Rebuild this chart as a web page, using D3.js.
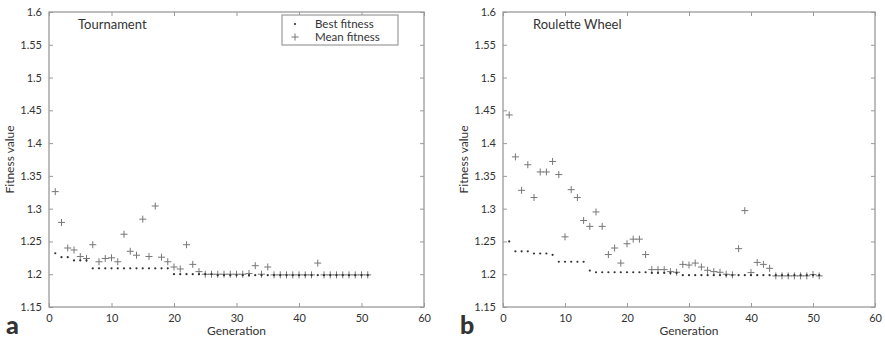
<!DOCTYPE html>
<html>
<head>
<meta charset="utf-8">
<script src="https://cdn.jsdelivr.net/npm/d3@7"></script>
<style>
body{margin:0;background:#fff;}
text{font-family:Lato,"Open Sans",sans-serif;fill:#333;}
</style>
</head>
<body>
<svg id="fig" width="885" height="341"></svg>
<script>
// generations (x), tick values
var generations=[1,2,3,4,5,6,7,8,9,10,11,12,13,14,15,16,17,18,19,20,21,22,23,24,25,26,27,28,29,30,31,32,33,34,35,36,37,38,39,40,41,42,43,44,45,46,47,48,49,50,51];
var xTicks=[0,10,20,30,40,50,60];
var yTicks=[1.15,1.2,1.25,1.3,1.35,1.4,1.45,1.5,1.55,1.6];

// tournament selection
var tourBest=[1.232,1.226,1.226,1.221,1.221,1.221,1.209,1.209,1.209,1.209,1.209,1.209,1.209,1.209,1.209,1.209,1.209,1.209,1.209,1.2,
  1.2,1.2,1.2,1.2,1.2,1.2,1.1985,1.1985,1.1985,1.1985,1.1985,1.1985,1.1985,1.1985,1.1985,1.1985,1.1985,1.1985,1.1985,1.1985,
  1.1985,1.1985,1.1985,1.1985,1.1985,1.1985,1.1985,1.1985,1.1985,1.1985,1.1985];
var tourMean=[1.326,1.279,1.24,1.237,1.227,1.224,1.245,1.219,1.224,1.225,1.219,1.261,1.235,1.229,1.284,1.227,1.304,1.226,1.219,1.211,
  1.208,1.245,1.215,1.204,1.2,1.2,1.2,1.2,1.2,1.2,1.2,1.201,1.213,1.2,1.211,1.199,1.199,1.199,1.199,1.199,
  1.199,1.199,1.217,1.199,1.199,1.199,1.199,1.199,1.199,1.199,1.199];

// roulette wheel selection
var rouBest=[1.25,1.235,1.235,1.235,1.2316,1.2316,1.2316,1.2296,1.219,1.219,1.219,1.219,1.219,1.2056,1.203,1.203,1.203,1.203,1.203,1.203,
  1.203,1.203,1.203,1.202,1.202,1.202,1.202,1.202,1.1985,1.1985,1.1985,1.1985,1.1985,1.1985,1.1985,1.1985,1.1985,1.1985,1.1985,1.1985,
  1.1985,1.1985,1.1985,1.1985,1.1985,1.1985,1.1985,1.1985,1.1985,1.1985,1.1985];
var rouMean=[1.443,1.379,1.328,1.367,1.317,1.356,1.356,1.372,1.352,1.257,1.329,1.317,1.282,1.273,1.295,1.273,1.23,1.24,1.217,1.2465,
  1.2535,1.2535,1.23,1.207,1.207,1.207,1.204,1.203,1.215,1.214,1.217,1.211,1.206,1.204,1.203,1.2,1.199,1.239,1.297,1.2025,
  1.218,1.215,1.209,1.1975,1.1975,1.1975,1.1975,1.1975,1.1975,1.1995,1.1975];

var svg=d3.select("#fig");
var TOP=12,BOTTOM=307;
var AXISCOLOR="#9a9a9a";

function drawPanel(opt){
    var x=d3.scaleLinear().domain([0,60]).range([opt.left,opt.right]);
    var y=d3.scaleLinear().domain([1.15,1.6]).range([BOTTOM,TOP]);
    var g=svg.append("g").attr("class","panel");

    // ticks on all four sides, pointing inward
    g.append("g").attr("transform","translate(0,"+BOTTOM+")")
        .call(d3.axisBottom(x).tickValues(xTicks).tickSize(-4).tickPadding(7).tickFormat(d3.format("d")));
    g.append("g").attr("transform","translate(0,"+TOP+")")
        .call(d3.axisTop(x).tickValues(xTicks).tickSize(-4).tickFormat(""));
    g.append("g").attr("transform","translate("+opt.left+",0)")
        .call(d3.axisLeft(y).tickValues(yTicks).tickSize(-4).tickPadding(7).tickFormat(function(d){return String(+d.toFixed(2));}));
    g.append("g").attr("transform","translate("+opt.right+",0)")
        .call(d3.axisRight(y).tickValues(yTicks).tickSize(-4).tickFormat(""));
    g.selectAll(".domain").remove();
    g.selectAll(".tick line").attr("stroke",AXISCOLOR);
    g.selectAll(".tick text").attr("font-size",11).attr("fill","#333").attr("font-family","Lato");

    g.append("rect").attr("x",opt.left).attr("y",TOP)
        .attr("width",opt.right-opt.left).attr("height",BOTTOM-TOP)
        .attr("fill","none").attr("stroke",AXISCOLOR).attr("stroke-width",1.3);

    // mean fitness +
    g.append("g").selectAll("path").data(opt.mean).enter().append("path")
        .attr("d","M-3.5,0H3.5M0,-3.5V3.5")
        .attr("transform",function(d,i){return "translate("+x(generations[i])+","+y(d)+")";})
        .attr("stroke","#777").attr("stroke-width",1).attr("fill","none");
    // best fitness dots
    g.append("g").selectAll("circle").data(opt.best).enter().append("circle")
        .attr("cx",function(d,i){return x(generations[i]);})
        .attr("cy",function(d){return y(d);})
        .attr("r",1.1).attr("fill","#333");

    g.append("text").attr("x",opt.titleX).attr("y",29).attr("font-size",13).text(opt.title);
    g.append("text").attr("x",(opt.left+opt.right)/2).attr("y",335)
        .attr("text-anchor","middle").attr("font-size",12).text("Generation");
    g.append("text").attr("transform","translate("+(opt.left-35)+","+((TOP+BOTTOM)/2)+") rotate(-90)")
        .attr("text-anchor","middle").attr("font-size",12).text("Fitness value");
    g.append("text").attr("x",opt.left-43).attr("y",334).attr("font-size",25)
        .attr("font-weight",900).attr("fill","#222").text(opt.letter);
    return {x:x,y:y};
}

drawPanel({left:49,right:424,best:tourBest,mean:tourMean,title:"Tournament",titleX:78,letter:"a"});
drawPanel({left:503,right:875,best:rouBest,mean:rouMean,title:"Roulette Wheel",titleX:533,letter:"b"});

// legend (left panel only)
var lg=svg.append("g").attr("transform","translate(282,15)");
lg.append("rect").attr("width",116).attr("height",30).attr("fill","#fff").attr("stroke",AXISCOLOR).attr("stroke-width",1.2);
lg.append("circle").attr("cx",13).attr("cy",9).attr("r",1.1).attr("fill","#333");
lg.append("path").attr("d","M9.5,22H16.5M13,18.5V25.5").attr("stroke","#777").attr("fill","none");
lg.append("text").attr("x",33).attr("y",12.5).attr("font-size",11.5).text("Best fitness");
lg.append("text").attr("x",33).attr("y",26.4).attr("font-size",11.5).text("Mean fitness");
</script>
</body>
</html>
